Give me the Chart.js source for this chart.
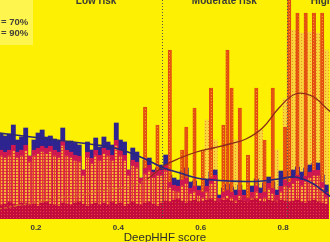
<!DOCTYPE html>
<html>
<head>
<meta charset="utf-8">
<script src="https://cdn.jsdelivr.net/npm/chart.js@4.4.1/dist/chart.umd.min.js"></script>
<style>
html,body{margin:0;padding:0;background:#fdf002;overflow:hidden}
#wrap{position:relative;width:330px;height:242px}
</style>
</head>
<body>
<div id="wrap"><canvas id="c"></canvas></div>
<script>
/* ─ data ─ */
const bins = Array.from({length:80},(_,i)=>+(0.115+0.01*i).toFixed(3));
const navyHist = [85,83,85,94,79,82,91,63,79,86,89,82,83,80,78,91,77,78,76,74,
                  49,77,69,81,72,82,77,74,96,79,77,49,71,67,41,59,61,49,51,54,
                  64,44,41,39,48,51,37,38,33,32,39,47,49,24,31,35,32,29,34,29,
                  26,33,40,31,36,42,37,29,48,44,47,49,52,47,51,54,56,56,44,34];
const redHist  = [69,67,69,74,67,69,74,63,69,71,73,71,73,69,67,79,69,67,64,63,
                  49,67,61,69,64,71,69,64,79,69,64,49,59,57,41,51,54,47,49,49,
                  54,37,34,33,39,41,31,33,29,27,33,41,44,21,27,29,27,24,29,24,
                  21,27,33,26,27,36,31,24,33,39,37,41,44,39,43,47,49,49,37,27];
const darkHist = [14,15,17,15,13,16,16,14,15,13,16,17,15,14,13,16,15,14,16,17,
                  15,13,15,16,14,16,14,17,15,16,13,15,17,15,14,16,17,15,13,16,
                  18,17,19,20,18,16,18,19,17,18,19,20,18,17,19,20,18,16,19,18,
                  17,19,20,18,17,19,18,17,19,18,17,18,19,17,16,18,19,17,16,15];
const orangeBins = [0.465,0.495,0.525,0.555,0.565,0.585,0.605,0.625,0.655,0.665,0.675,
                    0.695,0.715,0.735,0.755,0.775,0.805,0.815,0.835,0.855,0.875,0.895];
const orangeHist = [112,94,169,69,92,111,69,131,94,169,131,111,64,131,79,131,92,224,206,206,206,206];
const lightBins = [0.615,0.635,0.685,0.745,0.785,0.805,0.815,0.825,0.835,0.845,0.855,0.865,0.875,0.885,0.895,0.905];
const lightHist = [99,79,79,89,69,120,184,189,186,186,186,187,186,186,179,169];
const curveX = [0.11,0.15,0.19,0.23,0.27,0.31,0.35,0.39,0.43,0.47,0.51,0.55,0.59,0.63,0.67,0.71,0.75,0.79,0.83,0.87,0.91,0.93];
const navyCurve = [86,84,82,80,78,76,74,71,66,59,51,46,41,39,38,37.5,38,40,42,36,24,19];
const redCurve  = [10,13,16,19,22,24,28,30,33,40,53,61,67,71,75,80,91,111,125,123,109,102];
const cutoffs = [0.505,0.81];
const zones = [{t:'Low risk',x:0.346},{t:'Moderate risk',x:0.6575},{t:'High risk',x:0.919}];
const legendTxt = ['= 70%','= 90%'];

const pts=(xs,ys)=>xs.map((x,i)=>({x,y:ys[i]}));

/* ─ patterns ─ */
const ctx=document.getElementById('c').getContext('2d');
function dots(bg,dot,size,d){
  const t=document.createElement('canvas');t.width=t.height=size;
  const g=t.getContext('2d');g.fillStyle=bg;g.fillRect(0,0,size,size);
  g.fillStyle=dot;g.fillRect(1,1,d,d);
  return ctx.createPattern(t,'repeat');
}
const patRed=dots('#e23a2e','#f7b23a',3,2);
const patDark=dots('#c40c3c','#e4404c',3,1);
const patOrange=dots('#e6520f','#f39a2a',3,1);
const patLight=dots('#f9d43a','#ee8c22',3,1);

/* ─ overlay ─ */
const overlay={id:'overlay',
  afterDatasetsDraw(ch){
    const {ctx:c,chartArea:a,scales:{x}}=ch;
    c.save();c.strokeStyle='#55554a';c.lineWidth=1;c.setLineDash([1,2]);
    cutoffs.forEach(v=>{const px=Math.round(x.getPixelForValue(v))+0.5;
      c.beginPath();c.moveTo(px,a.top);c.lineTo(px,a.bottom);c.stroke();});
    c.restore();
  },
  afterDraw(ch){
    const {ctx:c,scales:{x}}=ch;
    c.save();
    c.font='bold 10px "Liberation Sans", Arial, sans-serif';c.fillStyle='#3a3a36';
    c.textAlign='center';c.textBaseline='alphabetic';
    zones.forEach(z=>c.fillText(z.t,x.getPixelForValue(z.x),4));
    c.fillStyle='rgba(255,255,220,0.35)';c.fillRect(-2,-2,35,47);
    c.fillStyle='#454238';c.textAlign='left';c.font='bold 9.5px "Liberation Sans", Arial, sans-serif';
    c.fillText(legendTxt[0],1,25);c.fillText(legendTxt[1],1,36);
    c.restore();
  }
};

new Chart(document.getElementById('c'),{
  type:'bar',
  data:{datasets:[
    {type:'line',data:pts(curveX,navyCurve),borderColor:'#2c2878',borderWidth:1.6,pointRadius:0,tension:0.4,order:0},
    {type:'line',data:pts(curveX,redCurve),borderColor:'#8a2a18',borderWidth:1.3,pointRadius:0,tension:0.4,order:1,
      segment:{borderDash:s=>s.p1.parsed.x<=0.47?[3,2]:undefined,borderColor:s=>s.p1.parsed.x<=0.47?'#d8682a':undefined}},
    {data:pts(bins,darkHist),backgroundColor:patDark,order:2,barThickness:4.3},
    {data:pts(bins,redHist),backgroundColor:patRed,borderColor:'#d01850',borderWidth:{top:6,left:1,right:1,bottom:0},borderSkipped:'bottom',order:3,barThickness:4.3},
    {data:pts(orangeBins,orangeHist),backgroundColor:patOrange,borderColor:'#e04a12',borderWidth:1,borderSkipped:'bottom',order:4,barThickness:3.4},
    {data:pts(bins,navyHist),backgroundColor:'#2d2490',order:5,barThickness:4.2},
    {data:pts(lightBins,lightHist),backgroundColor:patLight,order:6,barThickness:4.3}
  ]},
  options:{
    responsive:true,maintainAspectRatio:false,animation:false,
    layout:{padding:0},
    plugins:{legend:{display:false},tooltip:{enabled:false}},
    datasets:{bar:{grouped:false}},
    scales:{
      x:{type:'linear',min:0.1126,max:0.914,offset:false,
        grid:{display:false,drawTicks:false},border:{display:false},
        afterBuildTicks:s=>{s.ticks=[0.2,0.4,0.6,0.8].map(v=>({value:v}));},
        afterFit:s=>{s.height=23;},
        ticks:{color:'#3a3a36',padding:4,maxRotation:0,font:{family:'"Liberation Sans", Arial, sans-serif',size:8,weight:'bold'},callback:v=>v.toFixed(1)},
        title:{display:true,text:'DeepHHF score',color:'#2e2e2a',padding:{top:0,bottom:-3},font:{family:'"Liberation Sans", Arial, sans-serif',size:11.5}}
      },
      y:{display:false,min:0,max:219}
    }
  },
  plugins:[overlay]
});
</script>
</body>
</html>
